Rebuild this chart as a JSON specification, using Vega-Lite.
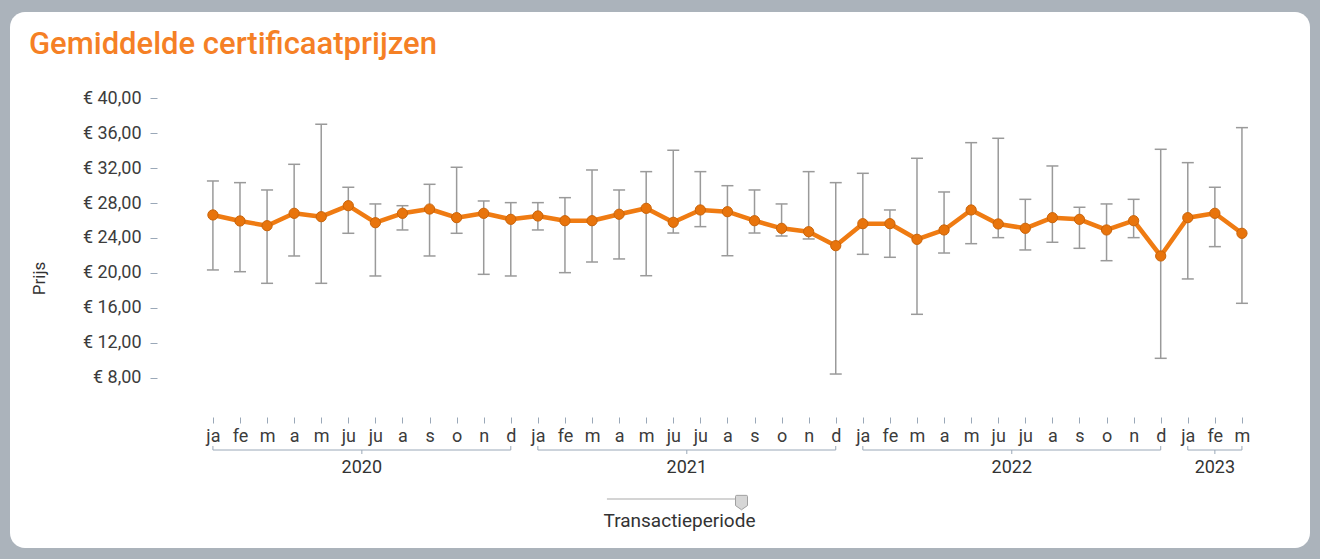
{
  "$schema": "https://vega.github.io/schema/vega-lite/v6.json",
  "width": 1300,
  "height": 536,
  "autosize": {"type": "none"},
  "padding": {"left": 10, "right": 10, "top": 12, "bottom": 11},
  "background": "#abb3bb",
  "config": {
    "view": {"fill": "#ffffff", "stroke": null, "cornerRadius": 15},
    "font": "Roboto",
    "axisX": {
      "offset": -131, "domain": false, "grid": false, "ticks": true, "tickSize": 6,
      "tickColor": "#9aa8b8", "tickWidth": 1, "labelAngle": 0, "labelFont": "Roboto",
      "labelFontSize": 18, "labelColor": "#3c3c3c", "labelPadding": 4, "labelOverlap": false,
      "labelFlush": false,
      "titleFont": "Roboto", "titleFontSize": 19, "titleFontWeight": "normal", "titleColor": "#333333"
    },
    "axisY": {
      "offset": -147, "domain": false, "grid": false, "ticks": true, "tickSize": 7,
      "tickColor": "#9aa8b8", "tickWidth": 1, "labelFont": "Roboto", "labelFontSize": 18,
      "labelColor": "#3c3c3c", "labelPadding": 9, "labelOverlap": false,
      "titleFont": "Roboto", "titleFontSize": 17, "titleFontWeight": "normal", "titleColor": "#333333"
    }
  },
  "title": {
    "text": "Gemiddelde certificaatprijzen",
    "anchor": "start",
    "frame": "group",
    "orient": "top",
    "offset": -73,
    "dx": 19,
    "baseline": "alphabetic",
    "font": "Roboto",
    "fontSize": 31,
    "fontWeight": 500,
    "color": "#F58025"
  },
  "datasets": {
    "prices": [
      {"i": 0, "m": "2020-01", "mean": 26.64, "lo": 20.34, "hi": 30.53},
      {"i": 1, "m": "2020-02", "mean": 25.95, "lo": 20.14, "hi": 30.34},
      {"i": 2, "m": "2020-03", "mean": 25.41, "lo": 18.81, "hi": 29.5},
      {"i": 3, "m": "2020-04", "mean": 26.83, "lo": 21.94, "hi": 32.44},
      {"i": 4, "m": "2020-05", "mean": 26.44, "lo": 18.81, "hi": 37.03},
      {"i": 5, "m": "2020-06", "mean": 27.7, "lo": 24.54, "hi": 29.81},
      {"i": 6, "m": "2020-07", "mean": 25.75, "lo": 19.65, "hi": 27.9},
      {"i": 7, "m": "2020-08", "mean": 26.83, "lo": 24.92, "hi": 27.7},
      {"i": 8, "m": "2020-09", "mean": 27.32, "lo": 21.94, "hi": 30.15},
      {"i": 9, "m": "2020-10", "mean": 26.33, "lo": 24.54, "hi": 32.1},
      {"i": 10, "m": "2020-11", "mean": 26.83, "lo": 19.84, "hi": 28.24},
      {"i": 11, "m": "2020-12", "mean": 26.14, "lo": 19.65, "hi": 28.05},
      {"i": 12, "m": "2021-01", "mean": 26.52, "lo": 24.92, "hi": 28.05},
      {"i": 13, "m": "2021-02", "mean": 25.98, "lo": 20.03, "hi": 28.62},
      {"i": 14, "m": "2021-03", "mean": 25.98, "lo": 21.25, "hi": 31.79},
      {"i": 15, "m": "2021-04", "mean": 26.72, "lo": 21.6, "hi": 29.5},
      {"i": 16, "m": "2021-05", "mean": 27.4, "lo": 19.68, "hi": 31.6},
      {"i": 17, "m": "2021-06", "mean": 25.8, "lo": 24.57, "hi": 34.05},
      {"i": 18, "m": "2021-07", "mean": 27.21, "lo": 25.3, "hi": 31.6},
      {"i": 19, "m": "2021-08", "mean": 27.01, "lo": 21.97, "hi": 29.99},
      {"i": 20, "m": "2021-09", "mean": 25.98, "lo": 24.57, "hi": 29.5},
      {"i": 21, "m": "2021-10", "mean": 25.11, "lo": 24.23, "hi": 27.9},
      {"i": 22, "m": "2021-11", "mean": 24.72, "lo": 23.89, "hi": 31.6},
      {"i": 23, "m": "2021-12", "mean": 23.12, "lo": 8.42, "hi": 30.34},
      {"i": 24, "m": "2022-01", "mean": 25.64, "lo": 22.13, "hi": 31.41},
      {"i": 25, "m": "2022-02", "mean": 25.64, "lo": 21.79, "hi": 27.21},
      {"i": 26, "m": "2022-03", "mean": 23.85, "lo": 15.26, "hi": 33.13},
      {"i": 27, "m": "2022-04", "mean": 24.92, "lo": 22.28, "hi": 29.27},
      {"i": 28, "m": "2022-05", "mean": 27.21, "lo": 23.35, "hi": 34.92},
      {"i": 29, "m": "2022-06", "mean": 25.61, "lo": 24.04, "hi": 35.42},
      {"i": 30, "m": "2022-07", "mean": 25.11, "lo": 22.63, "hi": 28.43},
      {"i": 31, "m": "2022-08", "mean": 26.33, "lo": 23.51, "hi": 32.25},
      {"i": 32, "m": "2022-09", "mean": 26.14, "lo": 22.82, "hi": 27.52},
      {"i": 33, "m": "2022-10", "mean": 24.92, "lo": 21.4, "hi": 27.9},
      {"i": 34, "m": "2022-11", "mean": 25.98, "lo": 24.04, "hi": 28.43},
      {"i": 35, "m": "2022-12", "mean": 21.94, "lo": 10.22, "hi": 34.16},
      {"i": 36, "m": "2023-01", "mean": 26.33, "lo": 19.31, "hi": 32.63},
      {"i": 37, "m": "2023-02", "mean": 26.83, "lo": 23.01, "hi": 29.81},
      {"i": 38, "m": "2023-03", "mean": 24.54, "lo": 16.52, "hi": 36.64}
    ],
    "years": [
      {"year": "2020", "start": 0, "end": 11, "mid": 5.5},
      {"year": "2021", "start": 12, "end": 23, "mid": 17.5},
      {"year": "2022", "start": 24, "end": 35, "mid": 29.5},
      {"year": "2023", "start": 36, "end": 38, "mid": 37}
    ]
  },
  "layer": [
    {
      "data": {"name": "prices"},
      "mark": {"type": "rule", "color": "#9a9a9a", "strokeWidth": 1.5},
      "encoding": {
        "x": {
          "field": "i", "type": "quantitative",
          "scale": {"domain": [-7.493, 40.513], "nice": false, "zero": false},
          "axis": {
            "values": [0,1,2,3,4,5,6,7,8,9,10,11,12,13,14,15,16,17,18,19,20,21,22,23,24,25,26,27,28,29,30,31,32,33,34,35,36,37,38],
            "tickCount": 60,
            "labelOverlap": false,
            "labelExpr": "['ja','fe','m','a','m','ju','ju','a','s','o','n','d'][datum.value % 12]",
            "title": "Transactieperiode", "titleX": 669, "titleY": 103, "titleAlign": "center", "titleBaseline": "middle"
          }
        },
        "y": {
          "field": "lo", "type": "quantitative",
          "scale": {"domain": [-11.505, 49.884], "nice": false, "zero": false},
          "axis": {
            "values": [8,12,16,20,24,28,32,36,40],
            "tickCount": 20,
            "labelExpr": "'€ ' + replace(format(datum.value, '.2f'), '.', ',')",
            "title": "Prijs", "titleX": -118, "titleY": 266, "titleAngle": 270, "titleAlign": "center", "titleBaseline": "middle"
          }
        },
        "y2": {"field": "hi"}
      }
    },
    {
      "data": {"name": "prices"},
      "mark": {"type": "tick", "color": "#9a9a9a", "size": 12, "thickness": 1.5, "opacity": 1, "orient": "horizontal"},
      "encoding": {
        "x": {"field": "i", "type": "quantitative"},
        "y": {"field": "lo", "type": "quantitative"}
      }
    },
    {
      "data": {"name": "prices"},
      "mark": {"type": "tick", "color": "#9a9a9a", "size": 12, "thickness": 1.5, "opacity": 1, "orient": "horizontal"},
      "encoding": {
        "x": {"field": "i", "type": "quantitative"},
        "y": {"field": "hi", "type": "quantitative"}
      }
    },
    {
      "data": {"name": "prices"},
      "mark": {"type": "line", "color": "#EF7B12", "strokeWidth": 4.5, "strokeJoin": "round"},
      "encoding": {
        "x": {"field": "i", "type": "quantitative"},
        "y": {"field": "mean", "type": "quantitative"}
      }
    },
    {
      "data": {"name": "prices"},
      "mark": {"type": "point", "shape": "circle", "filled": true, "size": 105, "fill": "#E8740C", "stroke": "#C9640A", "strokeWidth": 1, "opacity": 1},
      "encoding": {
        "x": {"field": "i", "type": "quantitative"},
        "y": {"field": "mean", "type": "quantitative"}
      }
    },
    {
      "data": {"name": "years"},
      "mark": {"type": "rule", "color": "#9aa8b8", "strokeWidth": 1},
      "encoding": {
        "x": {"field": "start", "type": "quantitative"},
        "x2": {"field": "end"},
        "y": {"datum": -0.282, "type": "quantitative"}
      }
    },
    {
      "data": {"name": "years"},
      "mark": {"type": "rule", "color": "#9aa8b8", "strokeWidth": 1},
      "encoding": {
        "x": {"field": "start", "type": "quantitative"},
        "y": {"datum": -0.282, "type": "quantitative"},
        "y2": {"datum": 0.176}
      }
    },
    {
      "data": {"name": "years"},
      "mark": {"type": "rule", "color": "#9aa8b8", "strokeWidth": 1},
      "encoding": {
        "x": {"field": "end", "type": "quantitative"},
        "y": {"datum": -0.282, "type": "quantitative"},
        "y2": {"datum": 0.176}
      }
    },
    {
      "data": {"name": "years"},
      "mark": {"type": "rule", "color": "#9aa8b8", "strokeWidth": 1},
      "encoding": {
        "x": {"field": "mid", "type": "quantitative"},
        "y": {"datum": -0.282, "type": "quantitative"},
        "y2": {"datum": -0.74}
      }
    },
    {
      "data": {"name": "years"},
      "mark": {"type": "text", "font": "Roboto", "fontSize": 18, "color": "#333333", "baseline": "middle", "align": "center"},
      "encoding": {
        "x": {"field": "mid", "type": "quantitative"},
        "y": {"datum": -2.344, "type": "quantitative"},
        "text": {"field": "year"}
      }
    },
    {
      "data": {"values": [{}]},
      "mark": {"type": "rule", "color": "#c6c6c6", "strokeWidth": 1.5},
      "encoding": {
        "x": {"datum": 14.55, "type": "quantitative"},
        "x2": {"datum": 19.5},
        "y": {"datum": -5.894, "type": "quantitative"}
      }
    },
    {
      "data": {"values": [{}]},
      "mark": {"type": "point", "filled": true, "size": 144, "fill": "#d6d6d6", "stroke": "#a0a0a0", "strokeWidth": 1, "opacity": 1,
        "shape": "M-0.8,-1.2 L0.8,-1.2 Q1,-1.2 1,-1 L1,0.5 L0,1.2 L-1,0.5 L-1,-1 Q-1,-1.2 -0.8,-1.2 Z"},
      "encoding": {
        "x": {"datum": 19.52, "type": "quantitative"},
        "y": {"datum": -6.3, "type": "quantitative"}
      }
    }
  ]
}
